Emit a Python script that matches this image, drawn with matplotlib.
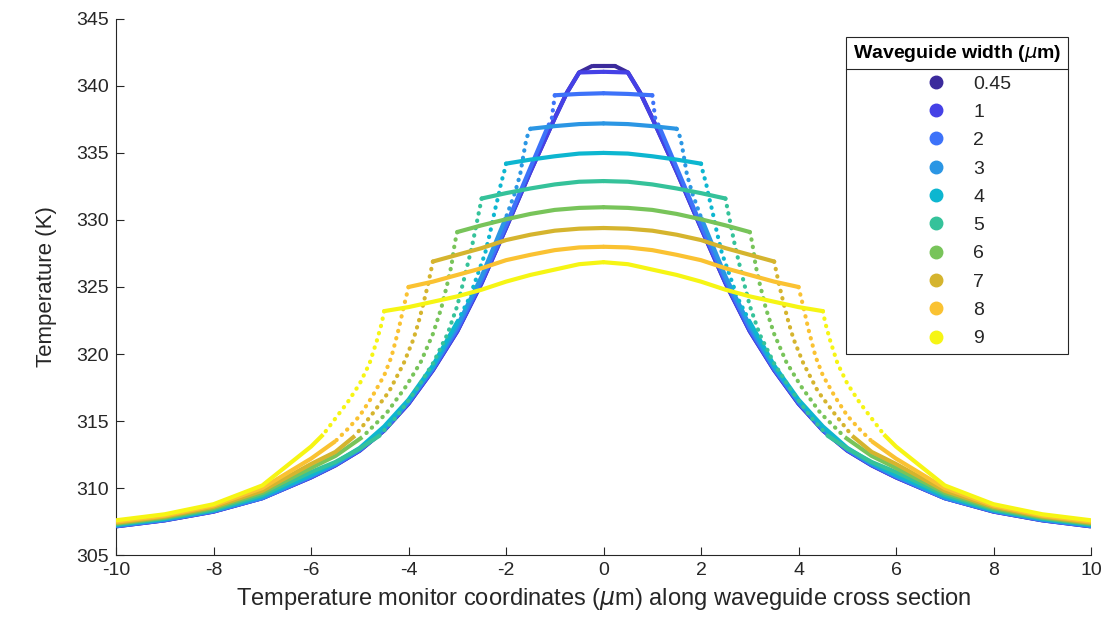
import matplotlib.pyplot as plt
import numpy as np
from matplotlib.lines import Line2D

plt.rcParams['font.family'] = ['Liberation Sans', 'DejaVu Sans']
plt.rcParams['mathtext.fontset'] = 'dejavusans'
plt.rcParams['axes.unicode_minus'] = False

# -----------------------------------
# Data (left half of each profile, centre -> x = -10; right half is its mirror)
# -----------------------------------

widths = ['0.45', '1', '2', '3', '4', '5', '6', '7', '8', '9']
half_widths = [0.225, 0.5, 1.0, 1.5, 2.0, 2.5, 3.0, 3.5, 4.0, 4.5]

x_045 = [0, -0.225, -0.5, -0.75, -1, -1.5, -2, -2.5, -3, -3.5, -4, -4.5, -5, -5.5, -6, -7, -8, -9, -10]
T_045 = [341.5, 341.5, 341.0, 339.5, 337.6, 333.6, 329.4, 325.3, 321.7, 318.8, 316.3, 314.3, 312.8, 311.7, 310.8, 309.25, 308.25, 307.6, 307.15]

x_1 = [0, -0.5, -0.75, -1, -1.5, -2, -2.5, -3, -3.5, -4, -4.5, -5, -5.5, -6, -7, -8, -9, -10]
T_1 = [341.05, 341.0, 339.5, 337.6, 333.6, 329.4, 325.3, 321.7, 318.8, 316.3, 314.3, 312.8, 311.7, 310.8, 309.25, 308.25, 307.6, 307.15]

x_2 = [0, -0.5, -1, -1.06, -1.15, -1.5, -2, -2.5, -3, -3.5, -4, -4.5, -5, -5.5, -6, -7, -8, -9, -10]
T_2 = [339.45, 339.4, 339.3, 337.6, 336.9, 333.9, 329.6, 325.5, 321.85, 318.9, 316.4, 314.35, 312.85, 311.75, 310.85, 309.25, 308.28, 307.62, 307.17]

x_3 = [0, -0.5, -1, -1.5, -1.58, -1.64, -1.71, -1.82, -2, -2.5, -3, -3.5, -4, -4.5, -5, -5.5, -6, -7, -8, -9, -10]
T_3 = [337.2, 337.15, 337.0, 336.8, 336.1, 334.9, 333.4, 332.0, 330.2, 325.8, 322.1, 319.0, 316.45, 314.45, 312.9, 311.8, 310.9, 309.3, 308.3, 307.65, 307.2]

x_4 = [0, -0.5, -1, -1.5, -2, -2.05, -2.1, -2.15, -2.23, -2.33, -2.43, -2.75, -3, -3.5, -4, -4.5, -5, -5.5, -6, -7, -8, -9, -10]
T_4 = [335.0, 334.95, 334.75, 334.5, 334.2, 333.4, 332.8, 331.9, 330.7, 329.0, 327.5, 324.2, 322.4, 319.15, 316.6, 314.6, 313.0, 311.9, 311.0, 309.4, 308.35, 307.7, 307.25]

x_5 = [0, -0.5, -1, -1.5, -2, -2.5, -2.6, -2.7, -2.84, -3, -3.2, -3.5, -3.85, -4.25, -4.6, -5, -5.5, -6, -7, -8, -9, -10]
T_5 = [332.9, 332.85, 332.65, 332.35, 332.0, 331.6, 329.8, 328.0, 325.9, 323.6, 321.5, 319.3, 317.3, 315.3, 313.9, 312.95, 311.95, 311.2, 309.5, 308.4, 307.75, 307.3]

x_6 = [0, -0.5, -1, -1.5, -2, -2.5, -3, -3.05, -3.12, -3.2, -3.33, -3.5, -3.75, -4.05, -4.45, -4.95, -5.5, -6, -7, -8, -9, -10]
T_6 = [330.95, 330.9, 330.75, 330.45, 330.05, 329.6, 329.1, 328.3, 326.6, 325.3, 323.4, 321.5, 319.4, 317.6, 315.6, 313.8, 312.4, 311.5, 309.65, 308.5, 307.8, 307.35]

x_7 = [0, -0.5, -1, -1.5, -2, -2.5, -3, -3.5, -3.6, -3.7, -3.8, -3.9, -4.1, -4.4, -4.75, -5.1, -5.5, -6, -7, -8, -9, -10]
T_7 = [329.4, 329.35, 329.2, 328.9, 328.5, 327.9, 327.4, 326.9, 325.2, 323.7, 322.3, 321.1, 319.3, 317.2, 315.5, 313.9, 312.7, 311.8, 309.8, 308.6, 307.88, 307.42]

x_8 = [0, -0.5, -1, -1.5, -2, -2.5, -3, -3.5, -4, -4.1, -4.2, -4.35, -4.5, -4.75, -5, -5.25, -5.5, -6, -7, -8, -9, -10]
T_8 = [328.0, 327.95, 327.75, 327.4, 327.0, 326.4, 325.9, 325.4, 325.0, 323.5, 321.9, 319.8, 318.4, 316.8, 315.4, 314.4, 313.5, 312.2, 310.0, 308.7, 307.95, 307.5]

x_9 = [0, -0.5, -1, -1.5, -2, -2.5, -3, -3.5, -4, -4.5, -4.55, -4.65, -4.8, -5, -5.25, -5.5, -5.75, -6, -7, -8, -9, -10]
T_9 = [326.85, 326.7, 326.3, 325.9, 325.4, 324.8, 324.3, 323.9, 323.5, 323.2, 322.3, 321.0, 319.3, 317.8, 316.4, 315.2, 314.0, 313.1, 310.2, 308.8, 308.05, 307.6]

xs_all = [x_045, x_1, x_2, x_3, x_4, x_5, x_6, x_7, x_8, x_9]
Ts_all = [T_045, T_1, T_2, T_3, T_4, T_5, T_6, T_7, T_8, T_9]

colors = ['#3b2a9c', '#4541e6', '#3d72f9', '#2b96e4', '#0db6d0',
          '#35c29a', '#78c45a', '#d5b42e', '#fac232', '#f6f514']

# sparse (dotted looking) part of each profile: from the edge out to this |x|
dot_end = [0.225, 0.5, 1.15, 2.0, 3.0, 4.6, 4.95, 5.1, 5.5, 5.75]

# -----------------------------------
# Figure Setup
# -----------------------------------

fig = plt.figure(figsize=(11.16, 6.28), dpi=100)
ax = fig.add_axes([0.104, 0.116, 0.8736, 0.854])

for i in range(len(widths)):

    x_half = -np.array(xs_all[i])       # positive distance from centre
    T_half = np.array(Ts_all[i])
    hw = half_widths[i]
    de = dot_end[i]

    inside = x_half <= hw + 1e-9
    near = (x_half >= hw - 1e-9) & (x_half <= de + 1e-9)
    far = x_half >= de - 1e-9

    for side in (-1, 1):

        xx = side * x_half

        ax.plot(xx[inside], T_half[inside], color=colors[i], lw=3,
                solid_capstyle='round', zorder=2 + i)

        if near.sum() > 1:
            ax.plot(xx[near], T_half[near], color=colors[i], lw=3,
                    linestyle=(0, (0.1, 1.7)), dash_capstyle='round',
                    zorder=2 + i)

        ax.plot(xx[far], T_half[far], color=colors[i], lw=3,
                solid_capstyle='butt', zorder=2 + i)


# -----------------------------------
# Axes styling
# -----------------------------------

ax.set_xlim(-10, 10)
ax.set_ylim(305, 345)
ax.set_xticks(np.arange(-10, 11, 2))
ax.set_yticks(np.arange(305, 346, 5))

for s in ['top', 'right']:
    ax.spines[s].set_visible(False)
for s in ['left', 'bottom']:
    ax.spines[s].set_color('#262626')
    ax.spines[s].set_linewidth(0.8)

ax.tick_params(direction='in', length=6, width=0.8, colors='#262626',
               labelsize=14, pad=5)

ax.set_xlabel(r'Temperature monitor coordinates ($\mu$m) along waveguide cross section',
              fontsize=17, color='#262626', labelpad=5)
ax.set_ylabel('Temperature (K)', fontsize=16, color='#262626', labelpad=14)


# -----------------------------------
# Legend
# -----------------------------------

handles = [Line2D([], [], marker='o', linestyle='none', color=c,
                  markersize=9) for c in colors]

leg = ax.legend(handles, widths,
                title=r'Waveguide width ($\mu$m)',
                loc='upper left',
                bbox_to_anchor=(0.749, 0.967),
                fontsize=14,
                title_fontproperties={'weight': 'bold', 'size': 14},
                frameon=True, fancybox=False,
                edgecolor='#262626',
                labelspacing=0.55,
                handlelength=3.4,
                handletextpad=0.2,
                borderpad=0.35,
                borderaxespad=0,
                framealpha=1)

leg.get_frame().set_linewidth(0.8)
for t in leg.get_texts():
    t.set_color('#262626')

# separator line below the legend title
fig.canvas.draw()
renderer = fig.canvas.get_renderer()
tb = leg.get_title().get_window_extent(renderer)
fb = leg.get_frame().get_window_extent(renderer)
inv = fig.transFigure.inverted()
(x0, y0) = inv.transform((fb.x0, tb.y0 - 5))
(x1, _) = inv.transform((fb.x1, tb.y0 - 5))
fig.add_artist(Line2D([x0, x1], [y0, y0], transform=fig.transFigure,
                      color='#262626', lw=0.8))

fig.savefig('out.png', dpi=100)
